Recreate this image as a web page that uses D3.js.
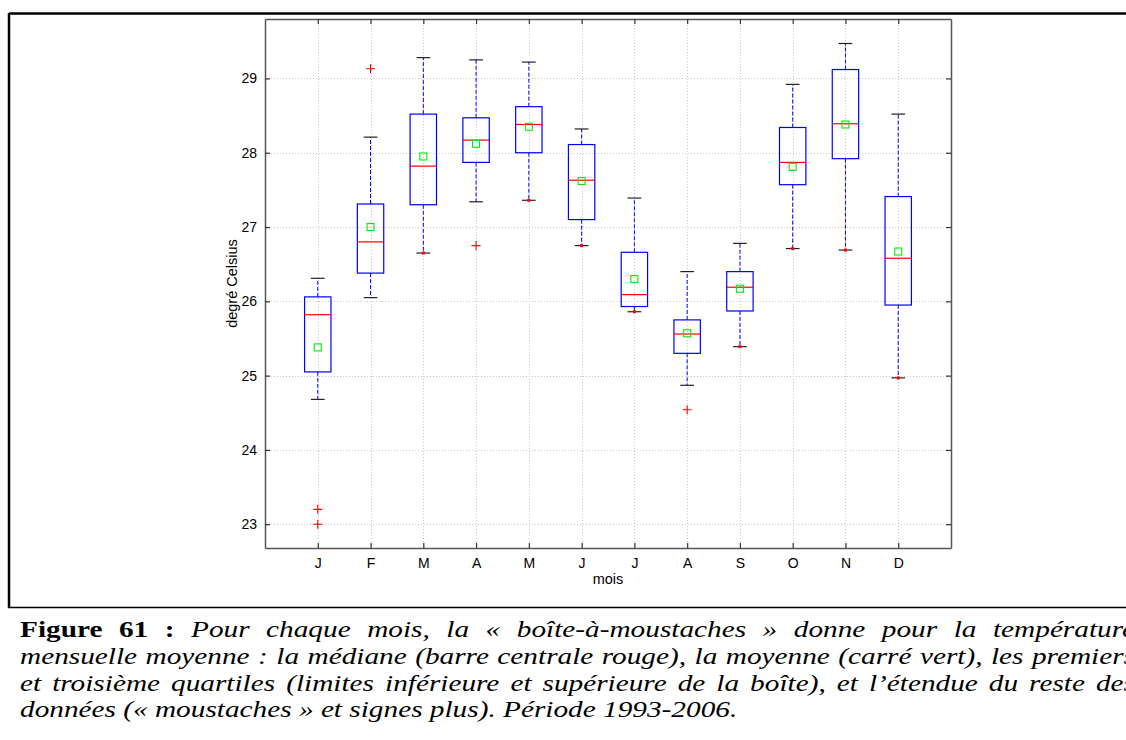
<!DOCTYPE html>
<html>
<head>
<meta charset="utf-8">
<script src="https://cdn.jsdelivr.net/npm/d3@7"></script>
<style>
  html, body { margin: 0; padding: 0; background: #fff; overflow: hidden; width: 1126px; height: 740px; }
  #wrap { position: relative; width: 1126px; height: 740px; overflow: hidden; }
  svg { position: absolute; left: 0; top: 0; }
  .cap { position: absolute; left: 20px; font-family: "Liberation Serif", "Times New Roman", serif; font-size: 24px; line-height: 27px; color: #000; white-space: normal; transform-origin: 0 0; }
  .just { text-align: justify; text-align-last: justify; }
  .cap i { font-style: italic; }
</style>
</head>
<body>
<div id="wrap"></div>
<script>
// ---- data ----
const months = ["J", "F", "M", "A", "M", "J", "J", "A", "S", "O", "N", "D"];
const whiskerLow  = [24.68, 26.05, 26.65, 27.34, 27.36, 26.75, 25.86, 24.87, 25.39, 26.71, 26.69, 24.97];
const q1          = [25.05, 26.38, 27.30, 27.87, 28.00, 27.10, 25.93, 25.30, 25.87, 27.57, 27.92, 25.95];
const medians     = [25.82, 26.80, 27.82, 28.17, 28.38, 27.63, 26.09, 25.56, 26.19, 27.87, 28.39, 26.58];
const means       = [25.38, 27.00, 27.95, 28.12, 28.35, 27.62, 26.30, 25.57, 26.17, 27.81, 28.38, 26.67];
const q3          = [26.06, 27.31, 28.52, 28.47, 28.62, 28.11, 26.66, 25.75, 26.40, 28.34, 29.12, 27.41];
const whiskerHigh = [26.31, 28.21, 29.28, 29.25, 29.22, 28.32, 27.39, 26.40, 26.78, 28.92, 29.47, 28.52];
const outlierMonth = [1, 1, 2, 4, 8];
const outlierValue = [23.20, 23.00, 29.13, 26.75, 24.54];
const dotMonth = [3, 5, 6, 7, 9, 10, 11, 12];
const yTicks = [23, 24, 25, 26, 27, 28, 29];
const yDomain = [22.68, 29.8];
const captionLines = [
  '<b>Figure 61 :</b> <i>Pour chaque mois, la « boîte-à-moustaches » donne pour la température</i>',
  '<i>mensuelle moyenne : la médiane (barre centrale rouge), la moyenne (carré vert), les premiers</i>',
  '<i>et troisième quartiles (limites inférieure et supérieure de la boîte), et l’étendue du reste des</i>',
  '<i>données (« moustaches » et signes plus). Période 1993-2006.</i>'
];

// ---- layout ----
const W = 1126, H = 740;
const plot = { left: 265, right: 951, top: 19, bottom: 548 };
const wrap = d3.select("#wrap");
const svg = wrap.append("svg").attr("width", W).attr("height", H);

const x = d3.scaleLinear().domain([0, 13]).range([plot.left, plot.right]);
const y = d3.scaleLinear().domain(yDomain).range([plot.bottom, plot.top]);
const idx = d3.range(1, 13);

// outer frame
svg.append("line").attr("x1", 9).attr("x2", W + 5).attr("y1", 13.5).attr("y2", 13.5).attr("stroke", "#000").attr("stroke-width", 2.5);
svg.append("line").attr("x1", 9).attr("x2", 9).attr("y1", 13).attr("y2", 608).attr("stroke", "#000").attr("stroke-width", 2.5);
svg.append("line").attr("x1", 8).attr("x2", W + 5).attr("y1", 607.5).attr("y2", 607.5).attr("stroke", "#000").attr("stroke-width", 1.5);

// grid
const grid = svg.append("g").attr("stroke", "#c8c8c8").attr("stroke-width", 1).attr("stroke-dasharray", "1,2");
grid.selectAll(".gy").data(yTicks).join("line")
  .attr("x1", plot.left).attr("x2", plot.right)
  .attr("y1", d => Math.round(y(d)) + 0.5).attr("y2", d => Math.round(y(d)) + 0.5);
grid.selectAll(".gx").data(idx).join("line")
  .attr("y1", plot.top).attr("y2", plot.bottom)
  .attr("x1", d => Math.round(x(d)) + 0.5).attr("x2", d => Math.round(x(d)) + 0.5);

// axes (MATLAB style, ticks inside)
const axisL = d3.axisLeft(y).tickValues(yTicks).tickSizeInner(-5).tickSizeOuter(0).tickPadding(8).tickFormat(d3.format("d"));
const axisR = d3.axisRight(y).tickValues(yTicks).tickSizeInner(-5).tickSizeOuter(0).tickFormat("");
const axisB = d3.axisBottom(x).tickValues(idx).tickSizeInner(-5).tickSizeOuter(0).tickPadding(10).tickFormat((d, i) => months[i]);
const axisT = d3.axisTop(x).tickValues(idx).tickSizeInner(-5).tickSizeOuter(0).tickFormat("");

function styleAxis(g) {
  g.selectAll("path").attr("stroke", "#555").attr("stroke-width", 1.5);
  g.selectAll("line").attr("stroke", "#333").attr("stroke-width", 1.2);
  g.selectAll("text").attr("fill", "#000").attr("font-family", "Liberation Sans, Arial, sans-serif").attr("font-size", 14);
}
svg.append("g").attr("transform", `translate(${plot.left},0)`).call(axisL).call(styleAxis);
svg.append("g").attr("transform", `translate(${plot.right},0)`).call(axisR).call(styleAxis);
svg.append("g").attr("transform", `translate(0,${plot.bottom})`).call(axisB).call(styleAxis);
svg.append("g").attr("transform", `translate(0,${plot.top})`).call(axisT).call(styleAxis);

// axis labels
svg.append("text").attr("x", (plot.left + plot.right) / 2 - 0).attr("y", 584)
  .attr("text-anchor", "middle").attr("font-family", "Liberation Sans, Arial, sans-serif").attr("font-size", 14.5).text("mois");
svg.append("text").attr("transform", `translate(237,${(plot.top + plot.bottom) / 2 + 0}) rotate(-90)`)
  .attr("text-anchor", "middle").attr("font-family", "Liberation Sans, Arial, sans-serif").attr("font-size", 14.5).text("degré Celsius");

// boxes
const bw = x(0.25) - x(0);      // half box width
const cw = x(0.13) - x(0);      // half cap width
const g = svg.append("g");

idx.forEach((m, i) => {
  const cx = x(m);
  g.append("line").attr("x1", cx).attr("x2", cx).attr("y1", y(q3[i])).attr("y2", y(whiskerHigh[i]))
    .attr("stroke", "#0000ff").attr("stroke-width", 1).attr("stroke-dasharray", "4,2");
  g.append("line").attr("x1", cx).attr("x2", cx).attr("y1", y(q1[i])).attr("y2", y(whiskerLow[i]))
    .attr("stroke", "#0000ff").attr("stroke-width", 1).attr("stroke-dasharray", "4,2");
  [whiskerHigh[i], whiskerLow[i]].forEach(v => {
    g.append("line").attr("x1", cx - cw).attr("x2", cx + cw).attr("y1", y(v)).attr("y2", y(v))
      .attr("stroke", "#222").attr("stroke-width", 1.2);
  });
  g.append("rect").attr("x", cx - bw).attr("width", 2 * bw)
    .attr("y", y(q3[i])).attr("height", y(q1[i]) - y(q3[i]))
    .attr("fill", "none").attr("stroke", "#0000ff").attr("stroke-width", 1.2);
  g.append("line").attr("x1", cx - bw).attr("x2", cx + bw).attr("y1", y(medians[i])).attr("y2", y(medians[i]))
    .attr("stroke", "#ff0000").attr("stroke-width", 1.2);
  g.append("rect").attr("x", cx - 3.5).attr("y", y(means[i]) - 3.5).attr("width", 7).attr("height", 7)
    .attr("fill", "none").attr("stroke", "#00ee00").attr("stroke-width", 1.1);
});

dotMonth.forEach(m => {
  g.append("rect").attr("x", x(m) - 1.5).attr("y", y(whiskerLow[m - 1]) - 1.5).attr("width", 3).attr("height", 3).attr("fill", "#ff0000");
});

outlierMonth.forEach((m, k) => {
  const cx = x(m), cy = y(outlierValue[k]);
  g.append("path").attr("d", `M${cx - 4.5},${cy}H${cx + 4.5}M${cx},${cy - 4.5}V${cy + 4.5}`)
    .attr("stroke", "#ff0000").attr("stroke-width", 1.1).attr("fill", "none");
});

// caption (text in the reference is horizontally stretched)
const sx = 1.22;
const capWidth = 1115;
const capTops = [615.5, 642.5, 669.5, 696];
captionLines.forEach((t, i) => {
  wrap.append("div").attr("class", "cap" + (i < 3 ? " just" : ""))
    .style("top", capTops[i] + "px")
    .style("width", (capWidth / sx) + "px")
    .style("transform", `scaleX(${sx})`)
    .html(t);
});
</script>
</body>
</html>
